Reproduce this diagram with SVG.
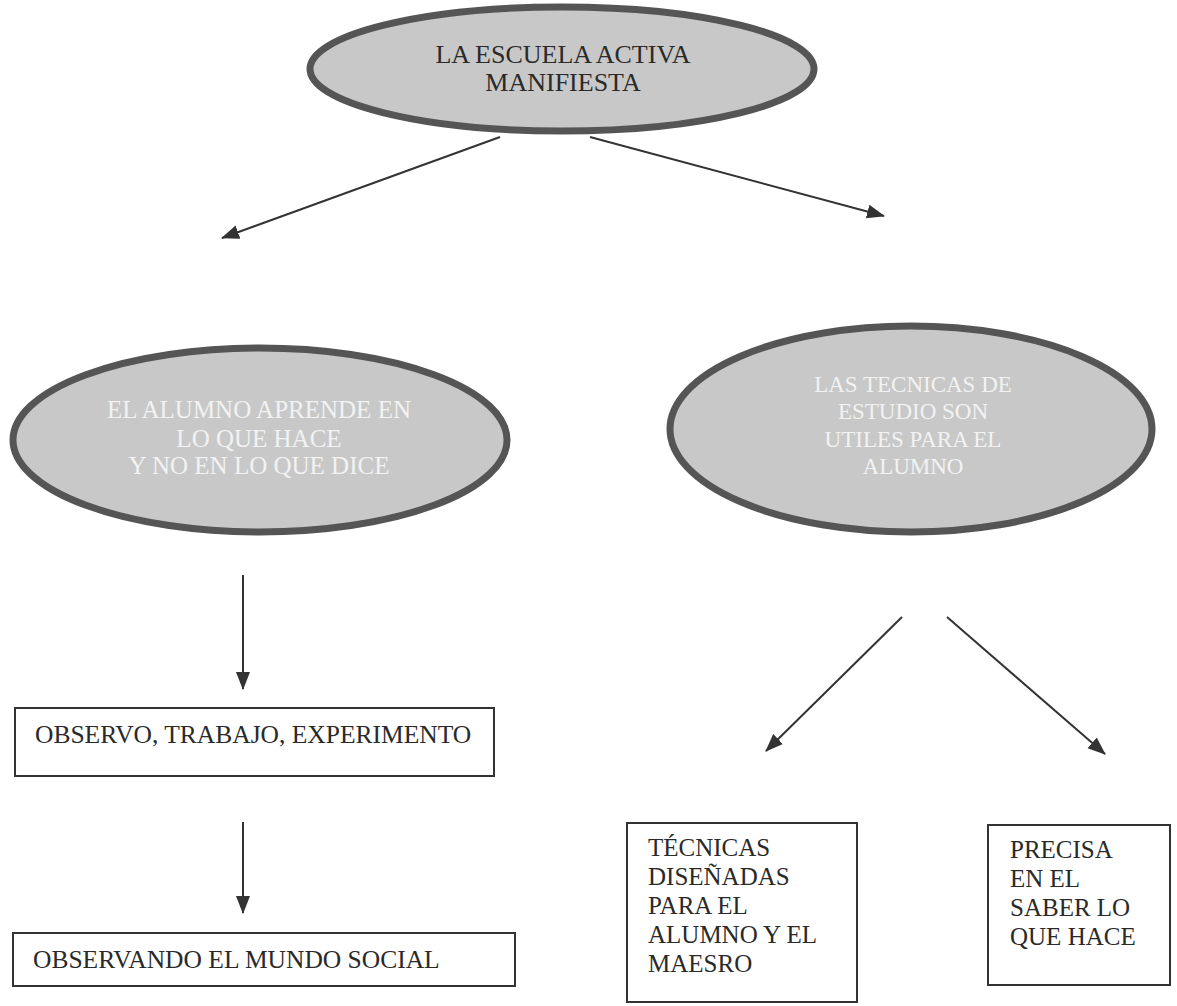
<svg xmlns="http://www.w3.org/2000/svg" width="1177" height="1006" viewBox="0 0 1177 1006">
<style>
.ell{fill:#c8c8c8;stroke:#555;stroke-width:7}
.box{fill:#fff;stroke:#333;stroke-width:2}
text{font-family:'Liberation Serif','Times New Roman','DejaVu Serif',serif}
.t{fill:#2a2a2a}
.w{fill:#f2f2f2;text-anchor:middle}
.c{stroke:#333;stroke-width:2;fill:none;marker-end:url(#ah)}
</style>
<defs>
<marker id="ah" markerWidth="18" markerHeight="16" refX="17" refY="8" orient="auto" markerUnits="userSpaceOnUse">
<path d="M0,1 L18,8 L0,15 Z" fill="#333"/>
</marker>
</defs>
<rect width="1177" height="1006" fill="#fff"/>
<g id="connectors">
<line class="c" x1="500" y1="137" x2="222" y2="238"/>
<line class="c" x1="590" y1="137" x2="884" y2="216"/>
<line class="c" x1="243" y1="575" x2="243" y2="689"/>
<line class="c" x1="243" y1="822" x2="243" y2="913"/>
<line class="c" x1="902" y1="617" x2="766" y2="751"/>
<line class="c" x1="947" y1="617" x2="1105" y2="754"/>
</g>
<g id="n-top" font-family="Liberation Serif, serif" font-size="26">
<ellipse class="ell" cx="562" cy="69" rx="252" ry="62"/>
<text class="t" x="563" y="63" text-anchor="middle">LA ESCUELA ACTIVA</text>
<text class="t" x="563" y="91" text-anchor="middle">MANIFIESTA</text>
</g>
<g id="n-left" font-family="Liberation Serif, serif" font-size="25">
<ellipse class="ell" cx="260" cy="440" rx="247" ry="92"/>
<text class="w" x="259" y="418">EL ALUMNO APRENDE  EN</text>
<text class="w" x="259" y="447">LO QUE HACE</text>
<text class="w" x="259" y="474">Y NO EN LO QUE DICE</text>
</g>
<g id="n-right" font-family="Liberation Serif, serif" font-size="23">
<ellipse class="ell" cx="911" cy="429" rx="241" ry="103"/>
<text class="w" x="913" y="392">LAS TECNICAS DE</text>
<text class="w" x="913" y="419">ESTUDIO  SON</text>
<text class="w" x="913" y="447">UTILES PARA EL</text>
<text class="w" x="913" y="474">ALUMNO</text>
</g>
<g id="n-observo" font-family="Liberation Serif, serif" font-size="25.5">
<rect class="box" x="15" y="708" width="479" height="68"/>
<text class="t" x="35" y="743">OBSERVO, TRABAJO, EXPERIMENTO</text>
</g>
<g id="n-observando" font-family="Liberation Serif, serif" font-size="25.5">
<rect class="box" x="13" y="933" width="502" height="53"/>
<text class="t" x="33" y="968">OBSERVANDO EL MUNDO SOCIAL</text>
</g>
<g id="n-tecnicas" font-family="Liberation Serif, serif" font-size="25">
<rect class="box" x="627" y="823" width="230" height="179"/>
<text class="t" x="648" y="856">TÉCNICAS</text>
<text class="t" x="648" y="885">DISEÑADAS</text>
<text class="t" x="648" y="914">PARA EL</text>
<text class="t" x="648" y="943">ALUMNO Y EL</text>
<text class="t" x="648" y="972">MAESRO</text>
</g>
<g id="n-precisa" font-family="Liberation Serif, serif" font-size="25">
<rect class="box" x="988" y="825" width="182" height="160"/>
<text class="t" x="1010" y="858">PRECISA</text>
<text class="t" x="1010" y="887">EN EL</text>
<text class="t" x="1010" y="916">SABER LO</text>
<text class="t" x="1010" y="945">QUE HACE</text>
</g>
</svg>
